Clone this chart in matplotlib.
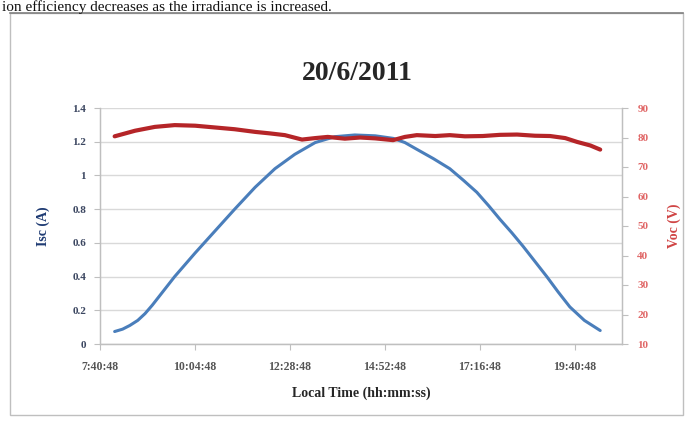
import matplotlib
matplotlib.use("Agg")
import matplotlib.pyplot as plt
from matplotlib.patches import Rectangle

# ---- data ----
isc_times = ["8:03", "8:15", "8:26", "8:38", "8:49", "9:00", "9:12", "9:23", "9:34",
             "10:05", "10:35", "11:05", "11:36", "12:06", "12:36", "13:07",
             "13:37", "14:07", "14:38", "15:05", "15:23", "15:41", "16:06",
             "16:31", "16:52", "17:12", "17:30", "17:47", "18:05", "18:22",
             "18:40", "18:58", "19:15", "19:33", "19:55", "20:19"]
isc_values = [0.074, 0.088, 0.11, 0.14, 0.18, 0.23, 0.29, 0.345, 0.40,
              0.54, 0.67, 0.80, 0.93, 1.04, 1.125, 1.195,
              1.23, 1.24, 1.235, 1.22, 1.195, 1.155, 1.10,
              1.04, 0.97, 0.90, 0.82, 0.74, 0.66, 0.58,
              0.49, 0.40, 0.31, 0.22, 0.14, 0.08]

voc_times = ["8:03", "8:34", "9:04", "9:34", "10:05", "10:35", "11:05", "11:36",
             "11:58", "12:21", "12:47", "13:07", "13:26", "13:52", "14:15",
             "14:38", "15:05", "15:23", "15:41", "16:09", "16:31", "16:54",
             "17:21", "17:47", "18:13", "18:40", "19:03", "19:26", "19:44",
             "20:04", "20:19"]
voc_values = [80.4, 82.3, 83.6, 84.2, 84.0, 83.4, 82.8, 81.9,
              81.4, 80.8, 79.3, 79.8, 80.2, 79.6, 80.0,
              79.7, 79.1, 80.2, 80.8, 80.5, 80.8, 80.4,
              80.5, 80.9, 81.0, 80.6, 80.5, 79.8, 78.5,
              77.3, 75.9]

x_tick_labels = ["7:40:48", "10:04:48", "12:28:48", "14:52:48", "17:16:48", "19:40:48"]
left_ticks = [0, 0.2, 0.4, 0.6, 0.8, 1, 1.2, 1.4]
right_ticks = [10, 20, 30, 40, 50, 60, 70, 80, 90]


def to_min(s):
    parts = [int(p) for p in s.split(":")]
    m = parts[0] * 60 + parts[1]
    if len(parts) > 2:
        m += parts[2] / 60.0
    return m


isc_x = [to_min(t) for t in isc_times]
voc_x = [to_min(t) for t in voc_times]
tick_x = [to_min(t) for t in x_tick_labels]

W, H = 693, 421
fig = plt.figure(figsize=(W / 100, H / 100), dpi=100)
fig.patch.set_facecolor("white")

serif = ["Liberation Serif", "DejaVu Serif"]

# top line of page text (cropped in the source screenshot)
fig.text(2 / W, 1 - 11 / H, "ion efficiency decreases as the irradiance is increased.",
         fontsize=11, family=serif, va="baseline", ha="left", color="#111111")

# chart frame
fig.add_artist(Rectangle((10 / W, 1 - 415 / H), 673 / W, 402 / H,
                         transform=fig.transFigure, fill=False,
                         edgecolor="#BFBFBF", linewidth=1.0))
fig.add_artist(plt.Line2D([10 / W, 683 / W], [1 - 13 / H, 1 - 13 / H],
                          transform=fig.transFigure, color="#808080", linewidth=1.2))

ax = fig.add_axes([100 / W, 1 - 344 / H, 522 / W, 236 / H])
ax2 = ax.twinx()

x0 = tick_x[0]
step = tick_x[1] - tick_x[0]
ax.set_xlim(x0, x0 + step * 522 / 95)
ax.set_ylim(0, 1.4)
ax2.set_ylim(10, 90)

ax.set_yticks(left_ticks)
ax.set_yticklabels([("%g" % v) for v in left_ticks])
ax2.set_yticks(right_ticks)
ax.set_xticks(tick_x)
ax.set_xticklabels(x_tick_labels)

ax.grid(axis="y", color="#D9D9D9", linewidth=1.0)
ax.set_axisbelow(True)

ax.plot(isc_x, isc_values, color="#4A7EBB", linewidth=2.2, solid_capstyle="round",
        solid_joinstyle="round", zorder=3)
ax2.plot(voc_x, voc_values, color="#B52528", linewidth=3.0, solid_capstyle="round",
         solid_joinstyle="round", zorder=3)

for a in (ax, ax2):
    for s in a.spines.values():
        s.set_color("#BFBFBF")
        s.set_linewidth(0.9)
    a.spines["top"].set_visible(False)

ax.tick_params(axis="y", colors="#BFBFBF", labelcolor="#3B4660", labelsize=8,
               length=4, width=0.8, pad=6)
ax.tick_params(axis="x", colors="#BFBFBF", labelcolor="#555555", labelsize=8.5,
               length=4, width=0.8, pad=8)
ax2.tick_params(axis="y", colors="#BFBFBF", labelcolor="#E06666", labelsize=8,
                length=4, width=0.8, pad=7)
for lab in ax.get_yticklabels() + ax.get_xticklabels() + ax2.get_yticklabels():
    lab.set_family(serif)
    lab.set_fontweight("bold")

ax.set_ylabel("Isc (A)", family=serif, fontweight="bold", fontsize=10,
              color="#1F3B73", labelpad=16)
ax2.set_ylabel("Voc (V)", family=serif, fontweight="bold", fontsize=10,
               color="#D04545", labelpad=14)
ax.set_xlabel("Local Time (hh:mm:ss)", family=serif, fontweight="bold",
              fontsize=10, color="#262626", labelpad=10)

fig.text(357 / W, 1 - 73 / H, "20/6/2011", family=serif, fontweight="bold",
         fontsize=20, ha="center", va="center", color="#262626")

fig.savefig("out.png", dpi=100, facecolor="white")
